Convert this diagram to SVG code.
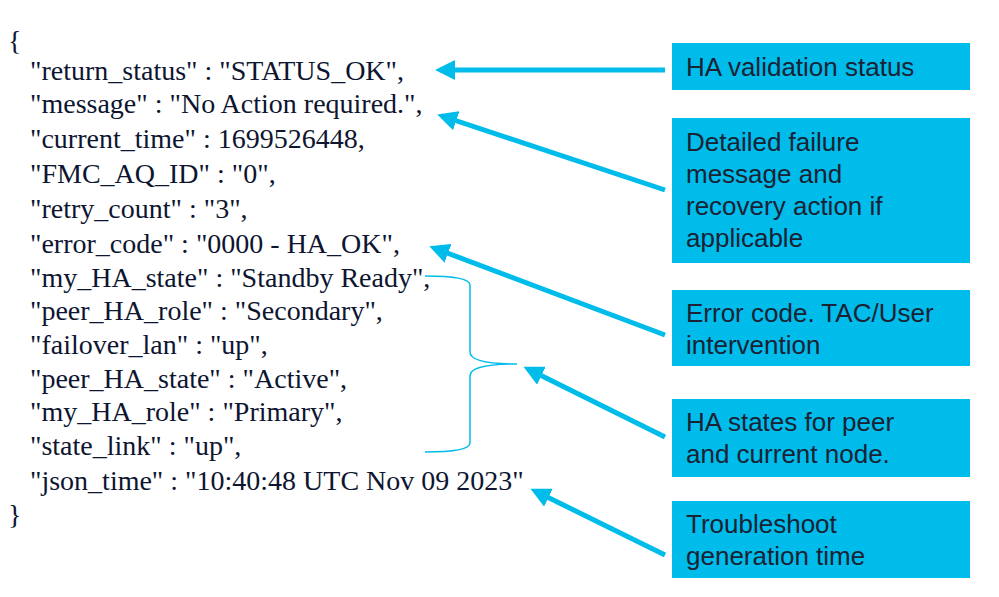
<svg xmlns="http://www.w3.org/2000/svg" width="999" height="597" viewBox="0 0 999 597">
<style>
.j{font-family:"Liberation Serif",serif;font-size:28px;fill:#0d1530}
.b{fill:#00bceb}
.t{font-family:"Liberation Sans",Arial,sans-serif;font-size:26px;fill:#1b2233}
.a{stroke:#00bceb;stroke-width:5;fill:none;marker-end:url(#h)}
</style>
<defs><marker id="h" markerWidth="4" markerHeight="4" refX="3" refY="2" orient="auto"><path d="M0,0L4,2L0,4z" fill="#00bceb"/></marker></defs>
<rect width="999" height="597" fill="#fff"/>
<g id="json">
<text class="j" x="8" y="50">{</text>
<text class="j" x="30" y="80">"return_status" : "STATUS_OK",</text>
<text class="j" x="30" y="113">"message" : "No Action required.",</text>
<text class="j" x="30" y="148">"current_time" : 1699526448,</text>
<text class="j" x="30" y="183">"FMC_AQ_ID" : "0",</text>
<text class="j" x="30" y="218">"retry_count" : "3",</text>
<text class="j" x="30" y="253">"error_code" : "0000 - HA_OK",</text>
<text class="j" x="30" y="287">"my_HA_state" : "Standby Ready",</text>
<text class="j" x="30" y="320">"peer_HA_role" : "Secondary",</text>
<text class="j" x="30" y="354">"failover_lan" : "up",</text>
<text class="j" x="30" y="388">"peer_HA_state" : "Active",</text>
<text class="j" x="30" y="421">"my_HA_role" : "Primary",</text>
<text class="j" x="30" y="455">"state_link" : "up",</text>
<text class="j" x="30" y="490">"json_time" : "10:40:48 UTC Nov 09 2023"</text>
<text class="j" x="8" y="524">}</text>
</g>
<g id="bracket"><path d="M425,276 Q470,276 470,285 L470,352 Q470,364 517,364 Q470,364 470,376 L470,443 Q470,452 425,452" fill="none" stroke="#00bceb" stroke-width="1.5"/></g>
<g id="n1"><rect class="b" x="672" y="43" width="298" height="47"/><text class="t" x="686" y="76">HA validation status</text></g>
<g id="n2"><rect class="b" x="672" y="118" width="298" height="145"/><text class="t" x="686" y="151">Detailed failure</text><text class="t" x="686" y="183">message and</text><text class="t" x="686" y="215">recovery action if</text><text class="t" x="686" y="247">applicable</text></g>
<g id="n3"><rect class="b" x="672" y="290" width="298" height="76"/><text class="t" x="686" y="322">Error code. TAC/User</text><text class="t" x="686" y="354">intervention</text></g>
<g id="n4"><rect class="b" x="672" y="399" width="298" height="78"/><text class="t" x="686" y="431">HA states for peer</text><text class="t" x="686" y="463">and current node.</text></g>
<g id="n5"><rect class="b" x="672" y="501" width="298" height="77"/><text class="t" x="686" y="533">Troubleshoot</text><text class="t" x="686" y="565">generation time</text></g>
<g id="connectors">
<path class="a" d="M665,70 L440,70"/>
<path class="a" d="M665,190 L442,116"/>
<path class="a" d="M665,335 L434,248"/>
<path class="a" d="M665,437 L528,369"/>
<path class="a" d="M665,555 L535,491"/>
</g>
</svg>
